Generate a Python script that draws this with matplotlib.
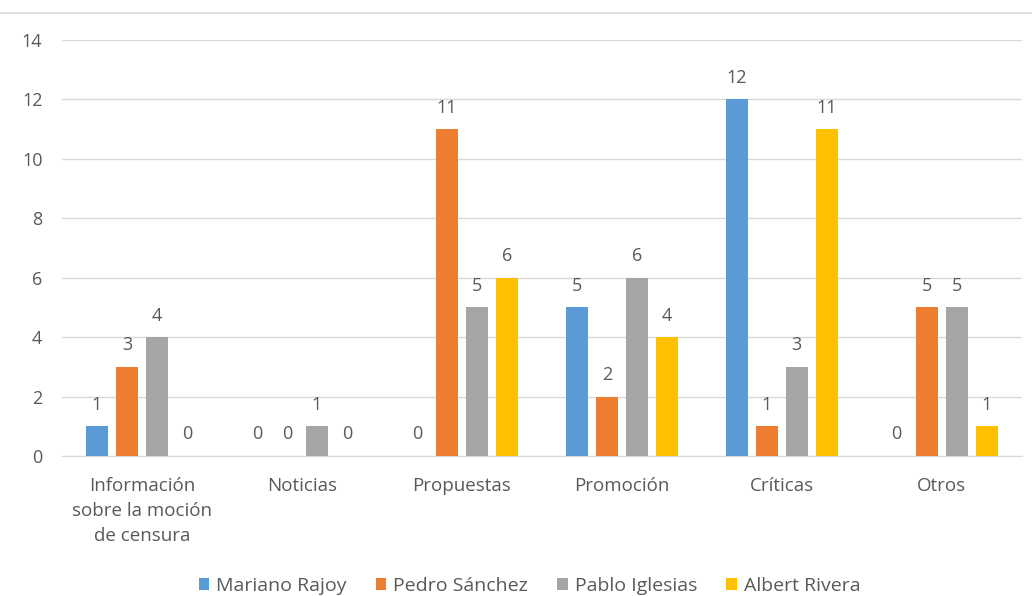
import numpy as np
import matplotlib
matplotlib.use("Agg")
import matplotlib.pyplot as plt
from matplotlib.lines import Line2D

categorias = ["Información\nsobre la moción\nde censura", "Noticias", "Propuestas",
              "Promoción", "Críticas", "Otros"]
series = ["Mariano Rajoy", "Pedro Sánchez", "Pablo Iglesias", "Albert Rivera"]
rajoy = [1, 0, 0, 5, 12, 0]
sanchez = [3, 0, 11, 2, 1, 5]
iglesias = [4, 1, 5, 6, 3, 5]
rivera = [0, 0, 6, 4, 11, 1]
colores = ["#5B9BD5", "#ED7D31", "#A5A5A5", "#FFC000"]

plt.rcParams['font.family'] = ['Open Sans', 'DejaVu Sans']
txt = "#595959"

fig = plt.figure(figsize=(10.32, 5.96), dpi=100)
ax = fig.add_axes([0.060, 0.235, 0.930, 0.698])

x = np.arange(len(categorias))
paso = 0.1875
ancho = 0.1375
for i, (nombre, vals) in enumerate(zip(series, [rajoy, sanchez, iglesias, rivera])):
    pos = x + (i - 1.5) * paso
    ax.bar(pos, vals, ancho, color=colores[i], label=nombre, zorder=3)
    for px, v in zip(pos, vals):
        ax.annotate(str(v), (px, v), xytext=(0, 9), textcoords="offset points",
                    ha="center", va="bottom", fontsize=13, color=txt)

ax.set_xlim(-0.5, 5.5)
ax.set_ylim(0, 14)
ax.set_yticks(range(0, 15, 2))
ax.set_xticks(x)
ax.set_xticklabels(categorias, fontsize=13.5, color=txt, linespacing=1.5)
ax.tick_params(axis="y", labelsize=13, labelcolor=txt, length=0, pad=14)
ax.tick_params(axis="x", length=0, pad=15)
ax.grid(axis="y", color="#D9D9D9", linewidth=1, zorder=0)
for s in ["top", "right", "left"]:
    ax.spines[s].set_visible(False)
ax.spines["bottom"].set_color("#D9D9D9")

fig.legend(loc="lower center", bbox_to_anchor=(0.513, -0.027), ncol=4, frameon=False,
           fontsize=14, labelcolor=txt, handlelength=0.55, handleheight=0.55,
           handletextpad=0.35, columnspacing=1.5)

fig.add_artist(Line2D([0, 1], [1 - 13 / 596, 1 - 13 / 596], color="#D9D9D9", linewidth=1.2))

plt.savefig("out.png", dpi=100)
